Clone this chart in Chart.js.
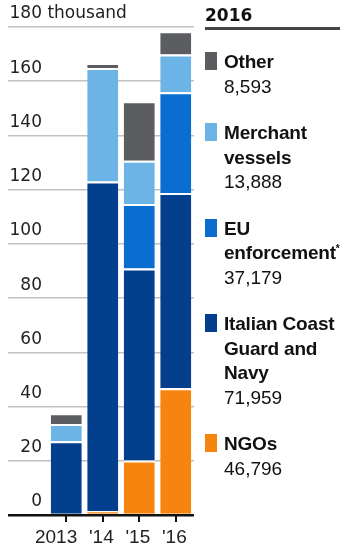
<!DOCTYPE html>
<html>
<head>
<meta charset="utf-8">
<script src="https://cdn.jsdelivr.net/npm/chart.js@4/dist/chart.umd.min.js"></script>
<style>
  html, body { margin: 0; padding: 0; background: #fff; }
  #wrap { position: relative; width: 350px; height: 551px; overflow: hidden; }
  #c { position: absolute; left: 0; top: 0; }
  #title { position: absolute; left: 205px; top: 5px; font: bold 17px "DejaVu Sans", sans-serif; line-height: 20px; color: #111; }
  #rule { position: absolute; left: 205px; top: 27px; width: 135px; height: 2.5px; background: #444; }
  #legend { position: absolute; left: 205px; top: 50px; width: 145px; font-family: "Liberation Sans", Arial, sans-serif; font-size: 19px; line-height: 24.5px; color: #111; }
  .item { position: relative; padding-left: 19px; margin-bottom: 22px; }
  .sw { position: absolute; left: 0; top: 2px; width: 12px; height: 18px; }
  .name { font-weight: bold; white-space: pre-line; letter-spacing: -0.2px; }
  .name sup { font-size: 10px; line-height: 0; vertical-align: 7px; }
</style>
</head>
<body>
<div id="wrap">
  <canvas id="c" width="350" height="551"></canvas>
  <div id="title"></div>
  <div id="rule"></div>
  <div id="legend"></div>
</div>
<script>
// ---- data (thousands of people rescued) ----
const categories = ['2013', "'14", "'15", "'16"];
const legendYear = '2016';
const ngos            = [0,    1.5,   20.1, 46.796];
const italianNavy     = [27.2, 121.5, 70.8, 71.959];
const euEnforcement   = [0,    0,     23.8, 37.179];
const merchantVessels = [6.4,  41.9,  16.0, 13.888];
const other           = [3.9,  1.8,   21.9, 8.593];
const yMin = 0, yMax = 180, yStep = 20;
const yUnit = 'thousand';

const seriesNames = ['NGOs', 'Italian Coast\nGuard and\nNavy', 'EU\nenforcement', 'Merchant\nvessels', 'Other'];
const seriesNotes = ['', '', '*', '', ''];
const seriesValues = [ngos, italianNavy, euEnforcement, merchantVessels, other];
const seriesColors = ['#f5850f', '#033f8c', '#0a6dcf', '#6cb3e6', '#5b5d60'];

const tickFont = { family: '"DejaVu Sans", sans-serif', size: 17 };
const yLabelOffset = -13;

const unitPlugin = {
  id: 'unitLabel',
  afterDraw(chart) {
    const s = chart.scales.y;
    const ctx = chart.ctx;
    ctx.save();
    ctx.font = tickFont.size + 'px ' + tickFont.family;
    ctx.fillStyle = '#222';
    ctx.textAlign = 'left';
    ctx.textBaseline = 'middle';
    ctx.fillText(' ' + yUnit, 42, s.getPixelForValue(yMax) + yLabelOffset);
    ctx.restore();
  }
};

new Chart(document.getElementById('c'), {
  type: 'bar',
  data: {
    labels: categories,
    datasets: seriesValues.map((vals, i) => ({
      label: seriesNames[i],
      data: vals,
      backgroundColor: seriesColors[i],
      borderColor: '#ffffff',
      borderWidth: { top: 2 },
      borderSkipped: 'start',
      categoryPercentage: 1,
      barPercentage: 0.85
    }))
  },
  options: {
    responsive: false,
    devicePixelRatio: 1,
    animation: false,
    layout: { padding: { left: 0, right: 156, top: 27, bottom: 0 } },
    plugins: { legend: { display: false }, tooltip: { enabled: false } },
    scales: {
      x: {
        stacked: true,
        border: { display: false },
        grid: { display: true, drawOnChartArea: false, drawTicks: true, offset: false, tickLength: 7, color: '#111', lineWidth: 2 },
        ticks: { font: { family: '"Liberation Sans", Arial, sans-serif', size: 19 }, color: '#222', align: 'end', labelOffset: 11, padding: 4, maxRotation: 0, autoSkip: false },
        afterFit(scale) { scale.height = 36; }
      },
      y: {
        stacked: true,
        min: yMin,
        max: yMax,
        border: { display: false },
        grid: {
          drawTicks: true,
          tickLength: 40,
          color: ctx => (ctx.tick && ctx.tick.value === 0) ? '#111' : '#c2c2c2',
          lineWidth: ctx => (ctx.tick && ctx.tick.value === 0) ? 2.5 : 1.5
        },
        ticks: {
          stepSize: yStep,
          font: tickFont,
          color: '#222',
          padding: -34,
          labelOffset: yLabelOffset,
          callback: v => String(v)
        },
        afterFit(scale) { scale.width = 48; }
      }
    }
  },
  plugins: [unitPlugin]
});

// ---- HTML legend (top to bottom = top of stack first) ----
document.getElementById('title').textContent = legendYear;
const legend = document.getElementById('legend');
for (let i = seriesNames.length - 1; i >= 0; i--) {
  const item = document.createElement('div');
  item.className = 'item';
  const sw = document.createElement('div');
  sw.className = 'sw';
  sw.style.background = seriesColors[i];
  const name = document.createElement('div');
  name.className = 'name';
  name.textContent = seriesNames[i];
  if (seriesNotes[i]) {
    const sup = document.createElement('sup');
    sup.textContent = seriesNotes[i];
    name.appendChild(sup);
  }
  const val = document.createElement('div');
  val.textContent = Math.round(seriesValues[i][seriesValues[i].length - 1] * 1000).toLocaleString('en-US');
  item.appendChild(sw);
  item.appendChild(name);
  item.appendChild(val);
  legend.appendChild(item);
}
</script>
</body>
</html>
